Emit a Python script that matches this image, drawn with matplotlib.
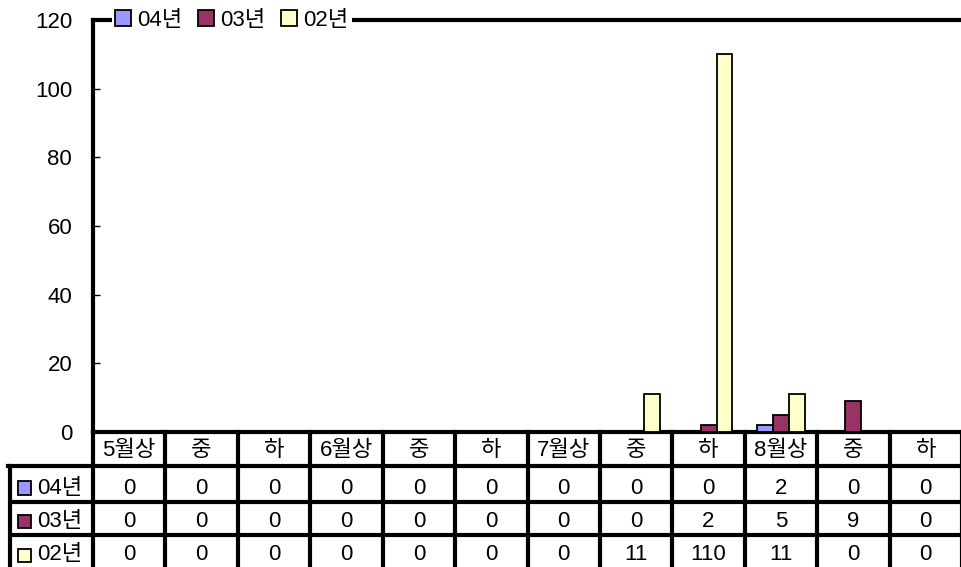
import matplotlib
matplotlib.use("Agg")
import matplotlib.pyplot as plt
from matplotlib.patches import Patch, Rectangle
from matplotlib.lines import Line2D
from matplotlib.transforms import blended_transform_factory

plt.rcParams['font.family'] = ['Liberation Sans', 'Noto Sans CJK KR', 'DejaVu Sans']

categories = ['5월상', '중', '하', '6월상', '중', '하', '7월상', '중', '하', '8월상', '중', '하']
series_names = ['04년', '03년', '02년']
v04 = [0, 0, 0, 0, 0, 0, 0, 0, 0, 2, 0, 0]
v03 = [0, 0, 0, 0, 0, 0, 0, 0, 2, 5, 9, 0]
v02 = [0, 0, 0, 0, 0, 0, 0, 11, 110, 11, 0, 0]
colors = ['#9999FF', '#993366', '#FFFFCC']
yticks = [0, 20, 40, 60, 80, 100, 120]

W, H = 962, 567
fig = plt.figure(figsize=(W / 100, H / 100), dpi=100)

def fy(y):
    return 1 - y / H

def fx(x):
    return x / W

left, right, top, bottom = 93, 962, 20, 432
ax = fig.add_axes([fx(left), fy(bottom), fx(right - left), fy(top) - fy(bottom)])

FS = 16
LW = 3
n = len(categories)
bw = 0.22
series = [v04, v03, v02]
for i, (vals, c) in enumerate(zip(series, colors)):
    xs = [k + (i - 1) * bw for k in range(n)]
    ax.bar(xs, vals, width=bw, color=c, edgecolor='black', linewidth=1.3, zorder=3)

ax.set_xlim(-0.5, n - 0.5)
ax.set_ylim(0, 120)
ax.set_yticks(yticks)
ax.set_yticklabels([str(t) for t in yticks], fontsize=FS)
ax.tick_params(axis='y', direction='in', length=5, width=1, pad=15)
ax.set_xticks([])
for s in ['left', 'top', 'bottom']:
    ax.spines[s].set_linewidth(LW)
ax.spines['right'].set_visible(False)

handles = [Patch(facecolor=c, edgecolor='black', linewidth=1.3) for c in colors]
leg = fig.legend(handles, series_names, loc='center left',
                 bbox_to_anchor=(fx(112), fy(20)), ncol=3, frameon=True,
                 fontsize=FS, handlelength=0.7, handleheight=0.7,
                 handletextpad=0.3, columnspacing=0.7, borderpad=0.15,
                 borderaxespad=0)
leg.get_frame().set_facecolor('white')
leg.get_frame().set_edgecolor('white')
leg.get_frame().set_linewidth(0)
leg.get_frame().set_alpha(1)
leg.set_zorder(10)

# table below the plot
tr = blended_transform_factory(ax.transData, fig.transFigure)
for k in range(n + 1):
    xk = k - 0.5
    fig.add_artist(Line2D([xk, xk], [fy(432), fy(567 + 5)], transform=tr,
                          color='black', lw=LW, clip_on=False))
fig.add_artist(Line2D([fx(8), fx(962)], [fy(466), fy(466)], transform=fig.transFigure,
                      color='black', lw=LW))
for yl in [502, 535]:
    fig.add_artist(Line2D([fx(13), fx(962)], [fy(yl), fy(yl)], transform=fig.transFigure,
                          color='black', lw=LW))
fig.add_artist(Line2D([fx(10), fx(10)], [fy(466), fy(572)], transform=fig.transFigure,
                      color='black', lw=LW))

for k, lab in enumerate(categories):
    fig.text(k, fy(451), lab, transform=tr, ha='center', va='center', fontsize=FS)

row_centers = [488, 521.5, 555]
for r, (name, vals, c) in enumerate(zip(series_names, series, colors)):
    yc = row_centers[r]
    fig.add_artist(Rectangle((fx(18), fy(yc + 6.5)), fx(13), fy(yc - 6.5) - fy(yc + 6.5),
                             transform=fig.transFigure, facecolor=c,
                             edgecolor='black', lw=1.3))
    fig.text(fx(37), fy(yc), name, ha='left', va='center', fontsize=FS)
    for k, v in enumerate(vals):
        fig.text(k, fy(yc), str(v), transform=tr, ha='center', va='center', fontsize=FS)

fig.savefig('out.png', dpi=100)
